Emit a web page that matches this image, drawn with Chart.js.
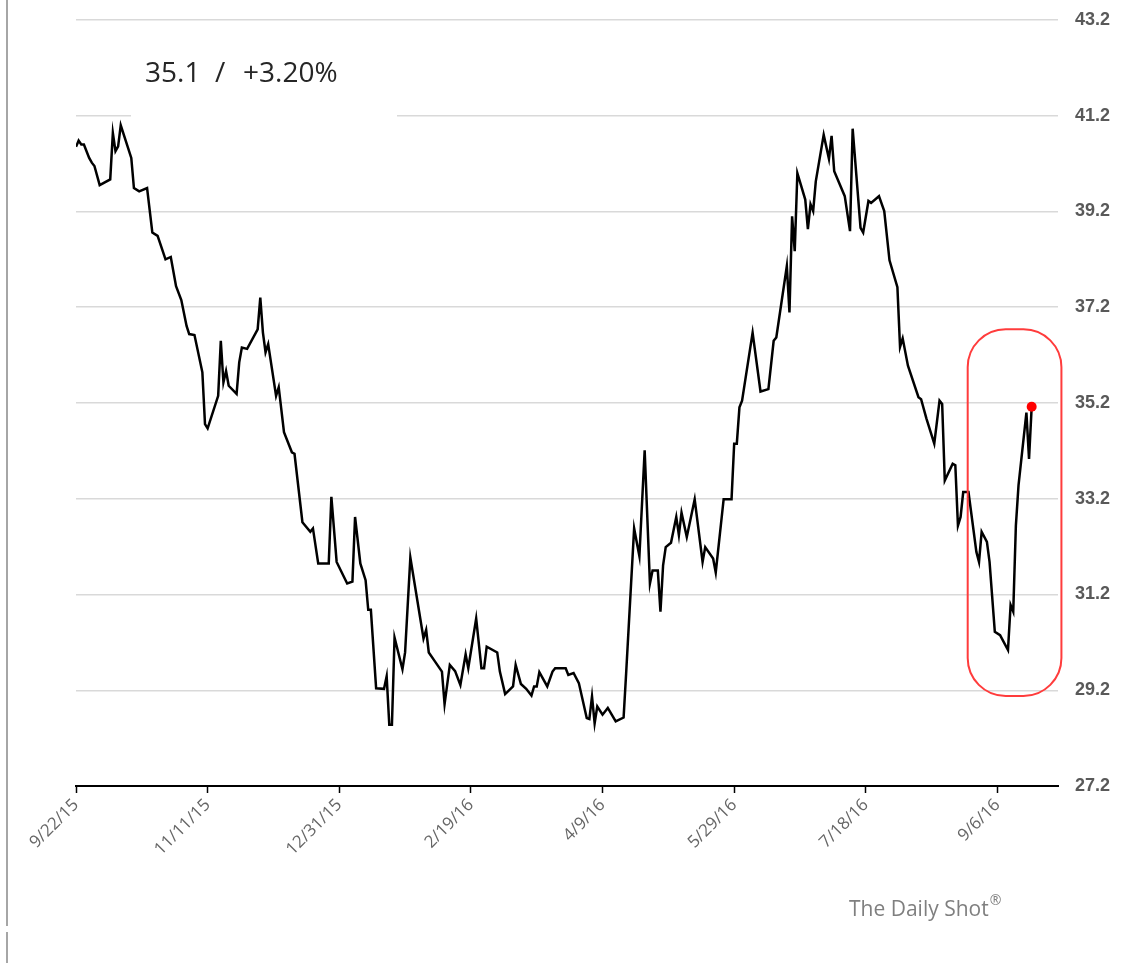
<!DOCTYPE html>
<html>
<head>
<meta charset="utf-8">
<script src="https://cdn.jsdelivr.net/npm/chart.js@4.4.1/dist/chart.umd.min.js"></script>
<style>
  html, body { margin: 0; padding: 0; background: #fff; }
  #wrap { position: relative; width: 1130px; height: 963px; }
</style>
</head>
<body>
<div id="wrap"><canvas id="myChartLine" width="1130" height="963"></canvas></div>
<script>
// days since 9/22/15 and the index level
const dayOffsets = [
  0, 1, 2, 3, 5, 6, 7, 9, 13, 14, 15, 16, 17, 21, 22, 24, 27, 29, 31, 34,
  36, 38, 40, 42, 43, 45, 48, 49, 50, 54, 55, 56, 57, 58, 61, 62, 63, 65, 69, 70,
  71, 72, 73, 76, 77, 79, 82, 83, 86, 89, 90, 92, 96, 97, 99, 103, 105, 106, 108, 110,
  111, 112, 114, 117, 118, 119, 120, 121, 124, 125, 127, 132, 133, 134, 136, 139, 140, 142, 144, 146,
  148, 149, 152, 154, 155, 156, 160, 161, 163, 166, 167, 169, 171, 173, 174, 175, 176, 179, 181, 182,
  186, 187, 189, 191, 194, 195, 196, 197, 198, 200, 202, 205, 208, 209, 212, 214, 216, 218, 219, 221,
  222, 223, 224, 226, 228, 229, 230, 232, 235, 238, 239, 242, 243, 246, 249, 250, 251, 252, 253, 257,
  260, 263, 265, 266, 270, 271, 272, 273, 274, 277, 278, 279, 280, 281, 284, 286, 287, 288, 292, 294,
  295, 298, 299, 301, 302, 305, 307, 309, 312, 313, 314, 316, 320, 321, 323, 326, 328, 329, 330, 333,
  334, 335, 336, 337, 339, 342, 343, 344, 346, 347, 349, 351, 354, 355, 356, 357, 358, 361, 362, 363
];
const values = [
  40.55, 40.68, 40.60, 40.60, 40.32, 40.22, 40.15, 39.75, 39.87, 40.84, 40.46, 40.56, 41.00, 40.32, 39.69, 39.62, 39.69, 38.76, 38.69, 38.20,
  38.25, 37.64, 37.35, 36.81, 36.64, 36.62, 35.84, 34.76, 34.67, 35.35, 36.50, 35.63, 35.87, 35.56, 35.39, 36.05, 36.36, 36.33, 36.74, 37.40,
  36.67, 36.26, 36.43, 35.35, 35.53, 34.59, 34.17, 34.14, 32.71, 32.51, 32.58, 31.85, 31.85, 33.24, 31.88, 31.43, 31.47, 32.82, 31.85, 31.50,
  30.88, 30.88, 29.24, 29.23, 29.49, 28.48, 28.48, 30.30, 29.64, 29.99, 31.97, 30.28, 30.46, 29.99, 29.83, 29.59, 28.91, 29.73, 29.60, 29.31,
  29.95, 29.66, 30.70, 29.66, 29.66, 30.11, 29.99, 29.59, 29.12, 29.28, 29.73, 29.33, 29.23, 29.09, 29.28, 29.28, 29.58, 29.28, 29.59, 29.66,
  29.66, 29.52, 29.56, 29.35, 28.62, 28.60, 29.07, 28.51, 28.86, 28.69, 28.83, 28.55, 28.63, 29.59, 32.58, 32.00, 34.21, 31.43, 31.70, 31.70,
  30.84, 31.81, 32.19, 32.28, 32.82, 32.44, 32.91, 32.40, 33.19, 31.88, 32.19, 31.95, 31.66, 33.19, 33.19, 34.35, 34.35, 35.11, 35.25, 36.67,
  35.44, 35.49, 36.50, 36.57, 38.06, 37.09, 39.10, 38.37, 40.00, 39.45, 38.83, 39.35, 39.21, 39.83, 40.80, 40.30, 40.78, 40.04, 39.52, 38.79,
  40.93, 38.86, 38.76, 39.42, 39.38, 39.52, 39.21, 38.18, 37.62, 36.37, 36.55, 35.98, 35.32, 35.28, 34.88, 34.35, 35.25, 35.18, 33.58, 33.93,
  33.90, 32.64, 32.82, 33.34, 33.34, 32.09, 31.88, 32.51, 32.30, 31.88, 30.42, 30.35, 30.04, 30.98, 30.84, 32.64, 33.48, 35.00, 34.03, 35.12
];

const tickDays = [0, 50, 100, 150, 200, 250, 300, 350];
const tickLabels = ['9/22/15', '11/11/15', '12/31/15', '2/19/16', '4/9/16', '5/29/16', '7/18/16', '9/6/16'];
const yTicks = [27.2, 29.2, 31.2, 33.2, 35.2, 37.2, 39.2, 41.2, 43.2];

const lastLevel = '35.1';
const lastChange = '+3.20%';

// red highlight box around the latest move (days, index level)
const boxDays = [338.7, 374.3];
const boxLevels = [29.08, 36.74];

const points = dayOffsets.map((d, i) => ({ x: d, y: values[i] }));
const lastIdx = points.length - 1;

const overlayPlugin = {
  id: 'overlay',
  beforeDatasetsDraw(chart) {
    const ctx = chart.ctx;
    ctx.save();
    // text box sitting over the gridline
    ctx.fillStyle = '#fff';
    ctx.fillRect(131, 40, 266, 84);
    ctx.fillStyle = '#262626';
    ctx.font = '28px "Open Sans", sans-serif';
    ctx.textBaseline = 'middle';
    ctx.fillText(lastLevel, 145, 74);
    ctx.fillText('/', 215, 74);
    ctx.fillText(lastChange, 243, 74);
    ctx.restore();
  },
  afterDatasetsDraw(chart) {
    const ctx = chart.ctx;
    const xs = chart.scales.x, ys = chart.scales.y;
    const x0 = xs.getPixelForValue(boxDays[0]);
    const x1 = xs.getPixelForValue(boxDays[1]);
    const y0 = ys.getPixelForValue(boxLevels[1]);
    const y1 = ys.getPixelForValue(boxLevels[0]);
    const r = 38;
    ctx.save();
    ctx.strokeStyle = '#ff3c3c';
    ctx.lineWidth = 2;
    ctx.beginPath();
    ctx.moveTo(x0 + r, y0);
    ctx.arcTo(x1, y0, x1, y1, r);
    ctx.arcTo(x1, y1, x0, y1, r);
    ctx.arcTo(x0, y1, x0, y0, r);
    ctx.arcTo(x0, y0, x1, y0, r);
    ctx.closePath();
    ctx.stroke();
    ctx.restore();
  },
  afterDraw(chart) {
    const ctx = chart.ctx;
    ctx.save();
    ctx.strokeStyle = '#a6a6a6';
    ctx.lineWidth = 2;
    ctx.beginPath();
    ctx.moveTo(7, 0);
    ctx.lineTo(7, 926);
    ctx.moveTo(7, 932);
    ctx.lineTo(7, 963);
    ctx.stroke();

    ctx.fillStyle = '#7f7f7f';
    ctx.font = '21px "Open Sans", sans-serif';
    ctx.textBaseline = 'alphabetic';
    ctx.fillText('The Daily Shot', 849, 916);
    const w = ctx.measureText('The Daily Shot').width;
    ctx.font = '14px "Open Sans", sans-serif';
    ctx.fillText('\u00AE', 849 + w + 1, 905);
    ctx.restore();
  }
};

const config = {
  type: 'line',
  data: {
    datasets: [{
      data: points,
      borderColor: '#000',
      borderWidth: 2.5,
      tension: 0,
      pointRadius: ctx => ctx.dataIndex === lastIdx ? 5 : 0,
      pointBackgroundColor: '#ff0000',
      pointBorderWidth: 0,
      pointHoverRadius: 0
    }]
  },
  options: {
    responsive: false,
    animation: false,
    events: [],
    layout: { padding: { left: 76, top: 20, right: 0, bottom: 0 } },
    plugins: {
      legend: { display: false },
      tooltip: { enabled: false },
      title: { display: false }
    },
    scales: {
      x: {
        type: 'linear',
        min: 0,
        max: 373,
        afterBuildTicks: axis => { axis.ticks = tickDays.map(v => ({ value: v })); },
        afterFit: axis => { axis.height = 177; },
        border: { display: true, color: '#000', width: 2 },
        grid: {
          drawOnChartArea: false,
          drawTicks: true,
          tickLength: 7,
          tickWidth: 1.5,
          tickColor: '#000'
        },
        ticks: {
          minRotation: 45,
          maxRotation: 45,
          padding: 2,
          color: '#666666',
          font: { family: '"Open Sans", sans-serif', size: 17 },
          callback: value => tickLabels[tickDays.indexOf(value)] || ''
        }
      },
      y: {
        position: 'right',
        min: 27.2,
        max: 43.2,
        afterBuildTicks: axis => { axis.ticks = yTicks.map(v => ({ value: v })); },
        afterFit: axis => {
          axis.width = 72;
          axis.paddingTop = 0;
          axis.paddingBottom = 0;
        },
        border: { display: false },
        grid: {
          color: ctx => ctx.tick && ctx.tick.value === yTicks[0] ? 'rgba(0,0,0,0)' : '#d9d9d9',
          lineWidth: 1.5,
          drawTicks: false
        },
        ticks: {
          padding: 17,
          color: '#595959',
          font: { family: '"Liberation Sans", sans-serif', size: 18, weight: 'bold' },
          callback: value => Number(value).toFixed(1)
        }
      }
    }
  },
  plugins: [overlayPlugin]
};

const canvasElLine = document.getElementById('myChartLine');
const lineChart = new Chart(canvasElLine, config);
</script>
</body>
</html>
